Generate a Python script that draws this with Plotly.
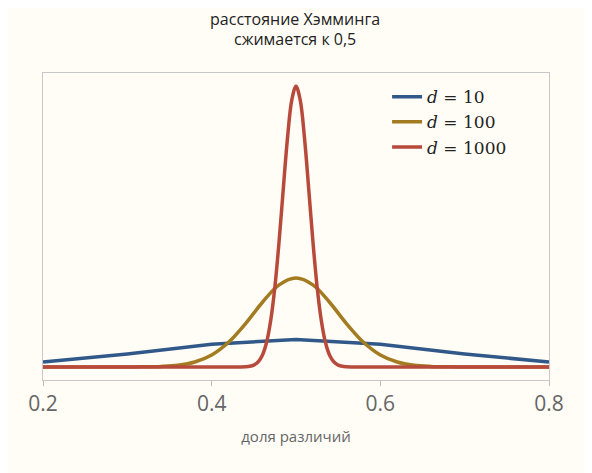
import plotly.graph_objects as go

x10 = [0.2, 0.3, 0.4, 0.5, 0.6, 0.7, 0.8]
y10 = [0.44, 1.17, 2.05, 2.46, 2.05, 1.17, 0.44]

x100 = [0.2, 0.28, 0.30, 0.32, 0.34, 0.36, 0.38, 0.40, 0.42, 0.44, 0.46, 0.48, 0.50,
        0.52, 0.54, 0.56, 0.58, 0.60, 0.62, 0.64, 0.66, 0.68, 0.70, 0.72, 0.8]
y100 = [0.0, 0.0, 0.003, 0.01, 0.05, 0.16, 0.45, 1.08, 2.22, 3.88, 5.79, 7.37, 7.98,
        7.37, 5.79, 3.88, 2.22, 1.08, 0.45, 0.16, 0.05, 0.01, 0.003, 0.0, 0.0]

x1000 = [0.2, 0.4, 0.435, 0.44, 0.445, 0.45, 0.455, 0.46, 0.465, 0.47, 0.475, 0.48, 0.485,
         0.49, 0.495, 0.5, 0.505, 0.51, 0.515, 0.52, 0.525, 0.53, 0.535, 0.54, 0.545,
         0.55, 0.555, 0.56, 0.565, 0.6, 0.8]
y1000 = [0.0, 0.0, 0.005, 0.02, 0.06, 0.17, 0.44, 1.03, 2.17, 4.17, 7.22, 11.32, 16.07,
         20.63, 23.97, 25.2, 23.97, 20.63, 16.07, 11.32, 7.22, 4.17, 2.17, 1.03, 0.44,
         0.17, 0.06, 0.02, 0.005, 0.0, 0.0]

names = ["<i>d</i> = 10", "<i>d</i> = 100", "<i>d</i> = 1000"]
colors = ["#30598a", "#a37b20", "#b84a3c"]

fig = go.Figure()
fig.add_trace(go.Scatter(x=x10, y=y10, mode="lines", name=names[0],
                         line=dict(color=colors[0], width=3.5)))
fig.add_trace(go.Scatter(x=x100, y=y100, mode="lines", name=names[1],
                         line=dict(color=colors[1], width=3.5, shape="spline")))
fig.add_trace(go.Scatter(x=x1000, y=y1000, mode="lines", name=names[2],
                         line=dict(color=colors[2], width=3.5, shape="spline")))

fig.update_layout(
    width=592, height=473,
    paper_bgcolor="#fffdf6", plot_bgcolor="#fffdf6",
    margin=dict(l=35, r=51, t=65, b=101),
    title=dict(text="расстояние Хэмминга<br>сжимается к 0,5", x=0.485, xanchor="center",
               y=0.965, yanchor="top", font=dict(family="Open Sans", size=16, color="#222")),
    showlegend=True,
    legend=dict(x=0.68, y=0.98, xanchor="left", yanchor="top", bgcolor="rgba(0,0,0,0)",
                font=dict(family="DejaVu Serif", size=17, color="#222"), tracegroupgap=2),
    xaxis=dict(range=[0.2, 0.8], tickvals=[0.2, 0.4, 0.6, 0.8], ticktext=["0.2", "0.4", "0.6", "0.8"],
               ticks="outside", ticklen=5, tickcolor="#bbb", showgrid=False, zeroline=False,
               showline=True, linecolor="#c8c8c8", mirror=True,
               tickfont=dict(family="Open Sans", size=21, color="#666"),
               title=dict(text="доля различий", font=dict(family="Open Sans", size=15, color="#666"))),
    yaxis=dict(range=[-1.17, 26.4], showticklabels=False, ticks="", showgrid=False, zeroline=False,
               showline=True, linecolor="#c8c8c8", mirror=True),
)
fig.write_html("out.html")
